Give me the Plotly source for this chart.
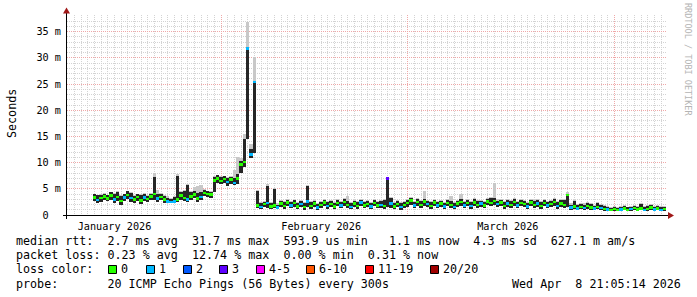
import plotly.graph_objects as go
import pandas as pd

# ---------------- data ----------------
series_start = "2026-01-12 18:00"   # first consolidated step
step_hours = 12

median_ms = [
    3.4, 2.9, 3.3, 3.6, 3.2, 3.8, 3.0, 3.5, 2.7, 3.4, 3.9, 3.3, 3.0, 3.5, 2.8, 3.4, 3.1, 3.6,
    4.1, 3.2, 3.5, 3.0, 2.6, 2.5, 2.6, 3.0, 3.8, 3.3, 3.0, 3.6, 4.0, 3.2, 3.5, 4.2, 4.1, 4.0,
    6.6, 7.0, 6.5, 6.9, 6.3, 6.8, 6.2, 7.0, 9.7, 10.2, 31.8, 11.6, 25.4,
    1.9, 1.6, 2.1, 2.3, 1.7, 1.9, 1.5, 2.2, 1.8, 2.4, 1.9, 2.3, 1.7, 2.1, 1.6, 2.6, 1.8, 2.2,
    1.5, 2.0, 2.4, 1.8, 2.1, 1.7, 2.3, 1.9, 2.5, 2.0, 1.6, 2.2, 1.8, 2.4, 1.9, 2.1, 1.7, 2.3,
    1.9, 2.0, 1.8, 7.0, 2.2, 1.7, 2.1, 1.6, 2.0,
    2.3, 2.8, 1.9, 2.5, 2.0, 2.6, 2.1, 1.8, 2.4, 1.9, 2.2, 1.7, 2.3, 2.0, 1.6, 2.2, 2.5, 1.9,
    2.3, 1.8, 2.4, 2.0, 2.2, 1.9, 2.6, 2.3, 2.7, 2.1, 2.4, 1.8, 2.2, 2.0, 2.5, 1.9, 2.3, 2.1,
    1.7, 2.4, 2.0, 2.2, 1.8, 2.3, 1.9, 2.1, 2.5, 1.8, 2.2, 2.0, 3.9,
    1.5, 1.7, 1.3, 1.6, 1.4, 1.8, 1.5, 1.3, 1.6, 1.4, 1.2, 1.1, 1.0, 1.2, 1.0, 1.1, 1.3, 1.0,
    1.2, 1.4, 1.1, 1.3, 1.0, 1.2, 1.5, 1.1, 1.3, 1.0, 1.2,
]
smoke_lo_ms = [
    2.6, 2.2, 2.5, 2.9, 2.6, 2.9, 2.3, 2.7, 2.0, 2.6, 3.1, 2.4, 2.3, 2.7, 2.1, 2.6, 2.4, 2.8,
    2.9, 2.5, 2.8, 2.3, 2.3, 2.2, 2.3, 2.5, 2.9, 2.6, 2.5, 2.8, 3.2, 2.5, 2.8, 3.6, 3.4, 3.3,
    4.3, 6.2, 5.9, 6.1, 5.6, 6.0, 5.7, 6.0, 8.0, 9.2, 14.5, 10.8, 11.8,
    1.3, 1.1, 1.5, 1.4, 1.2, 1.3, 1.1, 1.6, 1.2, 1.7, 1.4, 1.6, 1.1, 1.5, 1.0, 1.5, 1.2, 1.6,
    1.0, 1.4, 1.8, 1.2, 1.5, 1.1, 1.7, 1.3, 1.8, 1.4, 1.1, 1.6, 1.2, 1.8, 1.3, 1.5, 1.1, 1.7,
    1.3, 1.4, 1.2, 1.5, 1.4, 1.2, 1.5, 1.0, 1.4,
    1.6, 1.9, 1.3, 1.8, 1.4, 1.8, 1.5, 1.2, 1.7, 1.3, 1.6, 1.2, 1.7, 1.4, 1.1, 1.6, 1.8, 1.3,
    1.7, 1.2, 1.7, 1.4, 1.6, 1.3, 1.9, 1.7, 1.9, 1.5, 1.8, 1.2, 1.6, 1.4, 1.8, 1.3, 1.7, 1.5,
    1.1, 1.7, 1.4, 1.6, 1.2, 1.7, 1.3, 1.5, 1.8, 1.2, 1.6, 1.4, 1.6,
    1.0, 1.1, 0.9, 1.1, 0.9, 1.2, 1.0, 0.9, 1.1, 0.9, 0.8, 0.8, 0.7, 0.8, 0.7, 0.8, 0.9, 0.7,
    0.8, 0.9, 0.8, 0.9, 0.7, 0.8, 1.0, 0.8, 0.9, 0.7, 0.8,
]
smoke_hi_ms = [
    4.0, 3.8, 3.9, 4.1, 3.8, 4.3, 4.0, 4.4, 3.6, 4.0, 4.5, 4.2, 3.7, 4.0, 3.9, 4.1, 3.6, 4.1,
    7.3, 4.0, 4.0, 3.6, 3.3, 3.0, 3.4, 7.4, 4.3, 4.6, 5.7, 4.3, 4.6, 4.2, 4.4, 4.8, 4.5, 4.4,
    7.3, 7.6, 7.2, 7.4, 7.0, 7.3, 7.1, 7.8, 10.4, 14.6, 31.8, 12.6, 25.4,
    4.5, 2.2, 2.5, 5.6, 2.3, 4.9, 2.0, 2.6, 2.4, 2.9, 2.5, 2.8, 2.3, 2.6, 2.2, 5.5, 2.4, 2.7,
    2.1, 2.5, 2.9, 2.4, 2.6, 2.3, 2.8, 2.5, 3.1, 2.6, 2.2, 2.7, 2.4, 2.9, 2.5, 2.7, 2.3, 2.8,
    2.5, 2.6, 2.9, 7.2, 3.3, 2.3, 2.6, 2.2, 2.5,
    2.9, 3.3, 2.5, 3.0, 2.6, 3.1, 2.7, 2.4, 2.9, 2.5, 2.7, 2.3, 2.8, 2.6, 2.2, 2.7, 3.0, 2.5,
    2.9, 2.4, 3.0, 2.6, 2.7, 2.5, 3.1, 3.2, 3.3, 2.7, 2.9, 2.4, 2.8, 2.6, 3.0, 2.5, 2.9, 2.7,
    2.3, 2.9, 2.6, 2.8, 2.4, 2.9, 2.5, 2.7, 3.0, 2.4, 2.8, 2.9, 4.1,
    2.0, 2.7, 1.9, 2.1, 2.0, 2.3, 2.1, 1.8, 2.2, 2.0, 1.7, 1.5, 1.4, 1.6, 1.4, 1.5, 1.7, 1.5,
    1.6, 1.8, 1.6, 2.1, 1.5, 1.7, 1.9, 1.6, 1.8, 1.5, 1.6,
]
smoke_top_ms = [
    4.1, 3.9, 4.0, 4.2, 3.9, 4.4, 4.2, 4.5, 3.8, 4.1, 4.6, 4.3, 3.8, 4.1, 4.0, 4.2, 3.8, 4.2,
    8.0, 4.8, 4.2, 3.8, 3.6, 3.3, 3.6, 7.9, 4.5, 4.8, 5.9, 4.6, 5.3, 5.5, 5.8, 5.0, 4.6, 4.5,
    7.5, 7.7, 7.4, 7.5, 7.2, 7.5, 8.5, 11.0, 10.8, 15.5, 36.8, 13.5, 30.2,
    4.7, 2.4, 2.7, 5.9, 2.5, 5.1, 2.2, 2.8, 2.6, 3.0, 2.7, 2.9, 2.5, 2.8, 2.4, 5.8, 2.6, 2.8,
    2.3, 2.7, 3.1, 2.6, 2.8, 2.5, 3.0, 2.7, 3.2, 3.6, 2.4, 2.9, 2.6, 3.1, 2.6, 2.8, 2.5, 3.0,
    2.7, 2.8, 3.1, 7.3, 3.5, 2.5, 2.8, 2.4, 2.7,
    3.0, 3.4, 2.7, 3.2, 2.8, 4.5, 2.9, 2.6, 3.1, 2.7, 2.9, 2.5, 3.0, 3.7, 2.4, 2.9, 4.0, 2.7,
    3.1, 2.6, 3.2, 2.8, 2.9, 2.7, 3.3, 3.4, 6.2, 3.0, 3.1, 2.6, 3.0, 2.8, 3.2, 2.7, 3.1, 2.9,
    2.5, 3.1, 2.8, 3.0, 2.6, 3.1, 2.7, 2.9, 3.2, 2.6, 3.0, 3.1, 4.3,
    2.2, 2.9, 2.1, 2.3, 2.2, 2.5, 2.3, 2.0, 2.4, 2.1, 1.9, 1.7, 1.6, 1.8, 1.5, 1.7, 1.9, 1.6,
    1.8, 2.0, 1.7, 2.3, 1.7, 1.9, 2.1, 1.8, 2.0, 1.7, 1.8,
]
loss_index = [
    0, 1, 0, 0, 0, 0, 1, 0, 0, 1, 0, 1, 0, 0, 0, 1, 0, 0, 0, 1, 0, 0, 1, 1, 1, 0, 0, 0, 1, 0,
    0, 0, 1, 0, 0, 0,
    0, 0, 0, 0, 1, 0, 1, 0, 0, 0, 1, 1, 1,
    0, 1, 0, 1, 0, 0, 1, 0, 0, 0, 1, 0, 0, 1, 0, 1, 0, 0, 1, 0, 0, 1, 0, 0, 0, 1, 0, 0, 1, 0,
    0, 1, 0, 0, 1, 0, 0, 1, 0, 3, 1, 0, 0, 1, 0,
    0, 0, 1, 0, 0, 0, 1, 0, 0, 1, 0, 1, 0, 0, 1, 0, 0, 1, 0, 1, 0, 0, 1, 0, 0, 0, 0, 1, 0, 0,
    1, 0, 0, 1, 0, 0, 1, 0, 0, 1, 0, 0, 1, 0, 0, 1, 0, 0, 0,
    1, 0, 1, 0, 1, 0, 0, 1, 0, 1, 0, 1, 0, 0, 0, 1, 0, 0, 1, 0, 0, 0, 1, 0, 0, 1, 0, 1, 0,
]

loss_labels = ["0", "1", "2", "3", "4-5", "6-10", "11-19", "20/20"]
loss_colors = ["#26ff00", "#00b8ff", "#0059ff", "#5e00ff", "#ff00ff", "#ff5500", "#ff0000", "#a00000"]

y_tick_vals = [0, 5, 10, 15, 20, 25, 30, 35]
y_tick_text = ["0\u00a0\u00a0", "5 m", "10 m", "15 m", "20 m", "25 m", "30 m", "35 m"]
month_label_dates = ["2026-01-16", "2026-02-16", "2026-03-16"]
month_labels = ["January 2026", "February 2026", "March 2026"]
month_starts = ["2026-02-01", "2026-03-01", "2026-04-01"]
x_range = ["2026-01-08 21:05:14", "2026-04-08 21:05:14"]

legend_line1 = "median rtt:  2.7 ms avg  31.7 ms max  593.9 us min   1.1 ms now  4.3 ms sd  627.1 m am/s"
legend_line2 = "packet loss: 0.23 % avg  12.74 % max  0.00 % min  0.31 % now"
legend_line3 = "loss color:"
legend_line4 = "probe:       20 ICMP Echo Pings (56 Bytes) every 300s"
stamp = "Wed Apr  8 21:05:14 2026"

# ---------------- layout geometry ----------------
FIG_W, FIG_H = 697, 297
PL, PR, PT, PB = 67, 667, 15, 215
MONO = "DejaVu Sans Mono"


def px(x):
    return (x - PL) / (PR - PL)


def py(y):
    return (PB - y) / (PB - PT)


n = len(median_ms)
step = pd.Timedelta(hours=step_hours)
times = pd.date_range(series_start, periods=n, freq=f"{step_hours}h") + step / 2
bar_w = step_hours * 3600 * 1000

fig = go.Figure()

# light smoke
fig.add_trace(go.Bar(
    x=times, base=smoke_lo_ms, y=[t - l for t, l in zip(smoke_top_ms, smoke_lo_ms)],
    width=bar_w, marker=dict(color="#c8c8c8", line=dict(width=0)),
    hoverinfo="skip", showlegend=False))
# dark smoke
fig.add_trace(go.Bar(
    x=times, base=smoke_lo_ms, y=[h - l for h, l in zip(smoke_hi_ms, smoke_lo_ms)],
    width=bar_w, marker=dict(color="#262626", line=dict(width=0)),
    hoverinfo="skip", showlegend=False))
# median, coloured by loss
med_h = 0.38
fig.add_trace(go.Bar(
    x=times, base=[m - med_h / 2 for m in median_ms], y=[med_h] * n,
    width=bar_w, marker=dict(color=[loss_colors[k] for k in loss_index], line=dict(width=0)),
    hoverinfo="skip", showlegend=False))
# carrier for the label axis
fig.add_trace(go.Scatter(
    x=month_label_dates, y=[0, 0, 0], xaxis="x2", mode="markers",
    marker=dict(opacity=0), hoverinfo="skip", showlegend=False))

GRID = "#d3d3d3"
MGRID = "#efa8a8"

fig.update_layout(
    width=FIG_W, height=FIG_H,
    margin=dict(l=PL, r=FIG_W - PR, t=PT, b=FIG_H - PB),
    paper_bgcolor="white", plot_bgcolor="white",
    barmode="overlay", bargap=0, showlegend=False,
    xaxis=dict(
        type="date", range=x_range, tickmode="array", tickvals=month_starts,
        showticklabels=False, ticks="", showline=False, zeroline=False,
        showgrid=True, gridcolor=MGRID, griddash="1px,1px", gridwidth=1,
        minor=dict(tickmode="linear", tick0="2026-01-01", dtick=86400000,
                   showgrid=True, gridcolor=GRID, griddash="1px,1px", gridwidth=1, ticks=""),
    ),
    xaxis2=dict(
        type="date", overlaying="x", side="bottom", anchor="y", range=x_range,
        tickmode="array", tickvals=month_label_dates, ticktext=month_labels,
        showgrid=False, showline=False, zeroline=False, ticks="",
        tickfont=dict(family=MONO, size=10.2, color="#000000"), ticklabelstandoff=4,
    ),
    yaxis=dict(
        range=[0, 38.19], tickmode="array", tickvals=y_tick_vals, ticktext=y_tick_text,
        showline=False, zeroline=False, ticks="",
        showgrid=True, gridcolor=MGRID, griddash="1px,1px", gridwidth=1,
        minor=dict(tickmode="linear", tick0=0, dtick=1, showgrid=True,
                   gridcolor=GRID, griddash="1px,1px", gridwidth=1, ticks=""),
        tickfont=dict(family=MONO, size=10.2, color="#000000"), ticklabelstandoff=5,
    ),
)

shapes = []
AX = "#000000"
ARR = "#a01818"
# axes
shapes.append(dict(type="line", xref="paper", yref="paper",
                   x0=px(63), x1=px(668), y0=py(215.5), y1=py(215.5),
                   line=dict(color=AX, width=1)))
shapes.append(dict(type="line", xref="paper", yref="paper",
                   x0=px(66.5), x1=px(66.5), y0=py(219), y1=py(13),
                   line=dict(color=AX, width=1)))
# arrows
shapes.append(dict(type="path", xref="paper", yref="paper",
                   path=f"M {px(668)} {py(212)} L {px(674)} {py(215.5)} L {px(668)} {py(219)} Z",
                   fillcolor=ARR, line=dict(color=ARR, width=0)))
shapes.append(dict(type="path", xref="paper", yref="paper",
                   path=f"M {px(63)} {py(13.5)} L {px(66.5)} {py(7.5)} L {px(70)} {py(13.5)} Z",
                   fillcolor=ARR, line=dict(color=ARR, width=0)))

annotations = []


def text(x, y, s, size=11.7, anchor="left", color="#000000", angle=0, family=MONO):
    annotations.append(dict(
        x=px(x), y=py(y), xref="paper", yref="paper", text=s.replace(" ", "\u00a0"),
        showarrow=False, xanchor=anchor, yanchor="middle", textangle=angle,
        borderpad=0, borderwidth=0, font=dict(family=family, size=size, color=color)))


LX = 15.5
text(LX, 241, legend_line1)
text(LX, 255, legend_line2)
text(LX, 269.3, legend_line3)
text(LX, 283.7, legend_line4)
text(681, 283.7, stamp, anchor="right")

box_x = [108, 146, 183, 219, 256, 306, 365, 430]
for bx, lab, col in zip(box_x, loss_labels, loss_colors):
    shapes.append(dict(type="rect", xref="paper", yref="paper",
                       x0=px(bx + 0.5), x1=px(bx + 8.5), y0=py(265.5), y1=py(273.5),
                       fillcolor=col, line=dict(color="#000000", width=1)))
    text(bx + 12.5, 269.3, lab)

text(11.5, 113.5, "Seconds", anchor="center", angle=-90)
text(688, 59, "RRDTOOL / TOBI OETIKER", size=8.5, anchor="center", angle=90, color="#b4b4b4")

fig.update_layout(shapes=shapes, annotations=annotations)
fig.write_html("out.html")
